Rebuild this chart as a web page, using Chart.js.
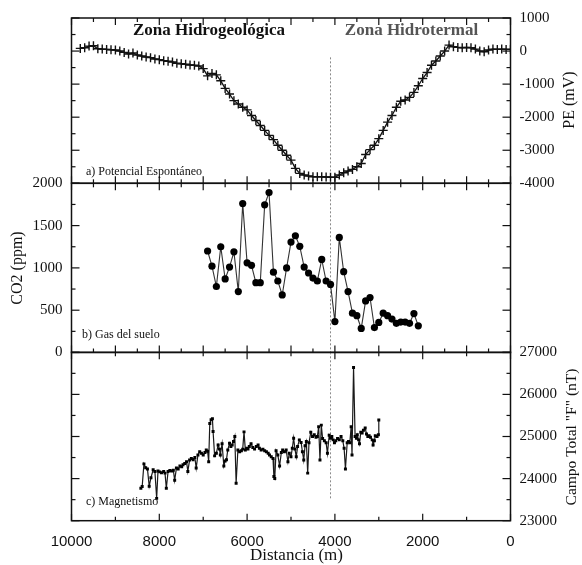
<!DOCTYPE html>
<html>
<head>
<meta charset="utf-8">
<script src="https://cdn.jsdelivr.net/npm/chart.js@4/dist/chart.umd.min.js"></script>
<style>
  html, body { margin: 0; padding: 0; background: #fff; }
  #wrap { position: relative; width: 582px; height: 565px; }
  #wrap canvas { position: absolute; left: 0; top: 0; }
</style>
</head>
<body>
<div id="wrap">
  <canvas id="pe" width="582" height="565"></canvas>
  <canvas id="co2" width="582" height="565"></canvas>
  <canvas id="mag" width="582" height="565"></canvas>
</div>
<script>
// Profile along the survey line; distance in metres (axis runs 10000 -> 0)
const distTicks = [10000, 8000, 6000, 4000, 2000, 0];
const peTicks = [1000, 0, -1000, -2000, -3000, -4000];
const co2Ticks = [0, 500, 1000, 1500, 2000];
const magTicks = [23000, 24000, 25000, 26000, 27000];

// a) Spontaneous potential (mV), one station every 100 m from 9800 m
const peStart = 9800, peStep = 100;
const peValues = [
  80, 100, 150, 160, 70, 60, 50, 40, 30, 0,
  -40, -90, -60, -120, -150, -180, -200, -240, -260, -290,
  -310, -330, -370, -385, -400, -420, -430, -450, -530, -750,
  -680, -720, -900, -1130, -1300, -1500, -1600, -1700, -1780, -1950,
  -2100, -2250, -2400, -2550, -2680, -2850, -3000, -3150, -3300, -3550,
  -3700, -3750, -3780, -3800, -3800, -3800, -3810, -3815, -3820, -3750,
  -3680, -3630, -3580, -3500, -3400, -3130, -2980, -2850, -2650, -2400,
  -2150, -1950, -1700, -1520, -1480, -1400, -1250, -1050, -830, -650,
  -430, -300, -150, 0, 180, 130, 110, 100, 110, 100,
  60, 0, -20, 30, 60, 50, 60, 50, 50
];

// b) Soil gas CO2 (ppm), one station every 100 m from 6900 m
const co2Start = 6900, co2Step = 100;
const co2Values = [
  1200, 1020, 780, 1250, 870, 1010, 1190, 720, 1760, 1060,
  1030, 825, 825, 1745, 1890, 950, 845, 680, 1000, 1305,
  1380, 1255, 1010, 940, 880, 845, 1100, 845, 805, 365,
  1360, 955, 720, 465, 435, 285, 610, 650, 295, 355,
  465, 435, 395, 345, 360, 360, 345, 460, 315
];

// c) Total magnetic field F (nT)
const magDist = [
  8420, 8390, 8350, 8310, 8270, 8230, 8190, 8140, 8100, 8060,
  8030, 7990, 7950, 7900, 7870, 7840, 7800, 7760, 7720, 7680,
  7650, 7610, 7570, 7530, 7490, 7460, 7420, 7380, 7350, 7310,
  7270, 7230, 7190, 7160, 7120, 7080, 7040, 7000, 6960, 6930,
  6900, 6875, 6850, 6820, 6790, 6775, 6740, 6700, 6660, 6630,
  6610, 6570, 6530, 6500, 6470, 6440, 6400, 6370, 6340, 6310,
  6280, 6250, 6210, 6170, 6130, 6100, 6070, 6040, 6010, 5980,
  5950, 5910, 5870, 5830, 5790, 5750, 5720, 5680, 5640, 5600,
  5560, 5520, 5490, 5450, 5410, 5390, 5370, 5340, 5300, 5260,
  5220, 5190, 5150, 5110, 5070, 5040, 5000, 4970, 4940, 4910,
  4880, 4850, 4810, 4770, 4740, 4710, 4680, 4650, 4620, 4590,
  4550, 4510, 4470, 4430, 4400, 4370, 4340, 4310, 4280, 4240,
  4200, 4170, 4130, 4100, 4070, 4040, 4010, 3980, 3940, 3900,
  3860, 3820, 3790, 3760, 3720, 3690, 3660, 3630, 3610, 3575,
  3540, 3510, 3490, 3460, 3440, 3410, 3380, 3350, 3310, 3280,
  3250, 3220, 3190, 3150, 3130, 3100, 3080, 3040, 3010, 3000
];
const magField = [
  23770, 23810, 24350, 24260, 24230, 23820, 24020, 24210, 24170, 23530,
  24180, 24160, 24140, 24170, 24130, 23770, 24170, 24190, 24180, 24200,
  23960, 24250, 24230, 24300, 24280, 24330, 24360, 24400, 24170, 24440,
  24480, 24450, 24500, 24250, 24560, 24640, 24600, 24560, 24620, 24680,
  24650, 24400, 25310, 25400, 25420, 25120, 24540, 24600, 24800, 24700,
  24560, 24830, 24300, 24420, 24450, 24680, 24840, 24760, 24800, 24880,
  25000, 23890, 24680, 24640, 24660, 24700, 25110, 24680, 24720, 24700,
  24760, 24830, 24740, 24700, 24760, 24800, 24720, 24680, 24700, 24660,
  24640, 24600, 24560, 24520, 24480, 24050, 24000, 24660, 24560, 24300,
  24620, 24680, 24640, 24680, 24400, 24600, 24520, 24720, 24960, 24700,
  24520, 24760, 24920, 24860, 24640, 24440, 24780, 24880, 24130, 24850,
  25100, 25000, 25040, 24980, 25000, 25230, 24440, 25270, 24950, 24900,
  24850, 24600, 25030, 24960, 25000, 24920, 24850, 24900, 24950, 24920,
  25000, 24900, 24720, 24230, 24850, 24880, 24850, 25230, 24560, 26640,
  25000, 24960, 25040, 24920, 24830, 25100, 25080, 25150, 25200, 25060,
  25000, 25020, 24980, 24920, 24800, 24900, 25020, 25000, 25040, 25390
];

// Boundary between the hydrogeological and hydrothermal zones
const boundaryDist = 4100;

const SERIF = '"Liberation Serif", "DejaVu Serif", serif';
const SANS = '"Liberation Sans", Arial, sans-serif';

const pePoints = peValues.map((v, i) => ({ x: peStart - i * peStep, y: v }));
const co2Points = co2Values.map((v, i) => ({ x: co2Start - i * co2Step, y: v }));
const magPoints = magField.map((v, i) => ({ x: magDist[i], y: v }));

// Panel frame with inward tick marks on all four sides
const framePlugin = {
  id: 'frame',
  afterDraw(chart, args, o) {
    const { ctx, chartArea: a } = chart;
    const xs = chart.scales.x, ys = chart.scales.y;
    ctx.save();
    ctx.strokeStyle = '#111';
    ctx.lineWidth = 1.5;
    ctx.strokeRect(a.left, a.top, a.right - a.left, a.bottom - a.top);
    ctx.lineWidth = 1.2;
    const seg = (x1, y1, x2, y2) => { ctx.beginPath(); ctx.moveTo(x1, y1); ctx.lineTo(x2, y2); ctx.stroke(); };
    for (let v = xs.min; v <= xs.max + 1e-6; v += o.xMinor) {
      const L = (Math.abs(v % o.xMajor) < 1e-6) ? 7 : 4;
      const px = xs.getPixelForValue(v);
      seg(px, a.top, px, a.top + L);
      seg(px, a.bottom, px, a.bottom - L);
    }
    for (let v = ys.min; v <= ys.max + 1e-6; v += o.yMinor) {
      const L = (Math.abs((v - ys.min) % o.yMajor) < 1e-6) ? 8 : 4;
      const py = ys.getPixelForValue(v);
      seg(a.left, py, a.left + L, py);
      seg(a.right, py, a.right - L, py);
    }
    ctx.restore();
  }
};

// Dotted line marking the zone boundary
const boundaryPlugin = {
  id: 'boundary',
  beforeDatasetsDraw(chart, args, o) {
    const { ctx } = chart;
    const xs = chart.scales.x, ys = chart.scales.y;
    const px = xs.getPixelForValue(boundaryDist);
    ctx.save();
    ctx.strokeStyle = '#8a8a8a';
    ctx.lineWidth = 1;
    ctx.setLineDash([2, 2]);
    ctx.beginPath();
    ctx.moveTo(px, ys.getPixelForValue(o.from));
    ctx.lineTo(px, ys.getPixelForValue(o.to));
    ctx.stroke();
    ctx.restore();
  }
};

// Free text: zone names, panel captions and axis titles
const textPlugin = {
  id: 'texts',
  afterDraw(chart, args, o) {
    const { ctx } = chart;
    ctx.save();
    for (const t of o.items) {
      ctx.save();
      ctx.font = t.font;
      ctx.fillStyle = t.color || '#111';
      ctx.textAlign = t.align || 'center';
      ctx.textBaseline = 'middle';
      ctx.translate(t.x, t.y);
      if (t.rotate) ctx.rotate(t.rotate);
      ctx.fillText(t.text, 0, 0);
      ctx.restore();
    }
    ctx.restore();
  }
};

const AXIS_W = 71.5;

function xScale(showLabels) {
  const s = {
    type: 'linear', min: 0, max: 10000, reverse: true,
    display: showLabels,
    grid: { display: false, drawTicks: false },
    border: { display: false },
    ticks: {
      font: { family: SANS, size: 15 }, color: '#111', padding: 12,
      autoSkip: false, maxRotation: 0, callback: v => String(v)
    },
    afterBuildTicks: sc => { sc.ticks = distTicks.map(v => ({ value: v })); },
  };
  if (showLabels) s.afterFit = sc => { sc.height = 44.3; };
  return s;
}

function yScale(pos, min, max, ticks) {
  return {
    type: 'linear', position: pos, min, max,
    grid: { display: false, drawTicks: false },
    border: { display: false },
    ticks: {
      font: { family: SERIF, size: 15 }, color: '#111', padding: 9,
      autoSkip: false, callback: v => String(v)
    },
    afterBuildTicks: sc => { sc.ticks = ticks.map(v => ({ value: v })); },
    afterFit: sc => { sc.width = AXIS_W; }
  };
}

function baseOptions(padding, scales, frame, boundary, items) {
  return {
    responsive: false, animation: false, devicePixelRatio: 1,
    layout: { padding },
    scales,
    plugins: {
      legend: { display: false }, tooltip: { enabled: false },
      frame, boundary, texts: { items }
    },
    elements: { line: { tension: 0 } }
  };
}

const plugins = [framePlugin, boundaryPlugin, textPlugin];

// a) Potencial Espontáneo
new Chart(document.getElementById('pe'), {
  type: 'line',
  data: {
    datasets: [{
      data: pePoints, borderColor: '#111', borderWidth: 1.3,
      pointStyle: 'cross', pointRadius: 4.5, pointBorderWidth: 1.4,
      pointBorderColor: '#111', pointBackgroundColor: '#111', fill: false
    }]
  },
  options: baseOptions(
    { top: 15, bottom: 381.7, left: AXIS_W, right: 0 },
    { x: xScale(false), y: yScale('right', -4000, 1000, peTicks) },
    { xMajor: 1000, xMinor: 500, yMajor: 1000, yMinor: 500 },
    { from: -190, to: -4000 },
    [
      { text: 'Zona Hidrogeológica', x: 209, y: 31, font: `bold 17px ${SERIF}`, color: '#111' },
      { text: 'Zona Hidrotermal', x: 411.5, y: 31, font: `bold 17px ${SERIF}`, color: '#555' },
      { text: 'a) Potencial Espontáneo', x: 86, y: 172, font: `12px ${SERIF}`, align: 'left' },
      { text: 'PE (mV)', x: 570, y: 100, font: `16px ${SERIF}`, rotate: -Math.PI / 2 }
    ]
  ),
  plugins
});

// b) Gas del suelo
new Chart(document.getElementById('co2'), {
  type: 'line',
  data: {
    datasets: [{
      data: co2Points, borderColor: '#333', borderWidth: 1.1,
      pointStyle: 'circle', pointRadius: 3.6, pointBorderWidth: 0,
      pointBackgroundColor: '#000', fill: false
    }]
  },
  options: baseOptions(
    { top: 183.3, bottom: 212.5, left: 0, right: 582 - 510.5 },
    { x: xScale(false), y: yScale('left', 0, 2000, co2Ticks) },
    { xMajor: 1000, xMinor: 500, yMajor: 500, yMinor: 250 },
    { from: 2000, to: 0 },
    [
      { text: 'b) Gas del suelo', x: 82, y: 335, font: `12px ${SERIF}`, align: 'left' },
      { text: 'CO2 (ppm)', x: 18, y: 268, font: `16px ${SERIF}`, rotate: -Math.PI / 2 }
    ]
  ),
  plugins
});

// c) Magnetismo
new Chart(document.getElementById('mag'), {
  type: 'line',
  data: {
    datasets: [{
      data: magPoints, borderColor: '#1a1a1a', borderWidth: 1.2,
      pointStyle: 'rect', pointRadius: 2.1, pointBorderWidth: 0,
      pointBackgroundColor: '#000', fill: false
    }]
  },
  options: baseOptions(
    { top: 352.3, bottom: 0, left: AXIS_W, right: 0 },
    { x: xScale(true), y: yScale('right', 23000, 27000, magTicks) },
    { xMajor: 2000, xMinor: 1000, yMajor: 1000, yMinor: 500 },
    { from: 27000, to: 23490 },
    [
      { text: 'c) Magnetismo', x: 86, y: 502, font: `12px ${SERIF}`, align: 'left' },
      { text: 'Campo Total "F" (nT)', x: 572, y: 437, font: `15.5px ${SERIF}`, rotate: -Math.PI / 2 },
      { text: 'Distancia (m)', x: 296.5, y: 556, font: `17px ${SERIF}` }
    ]
  ),
  plugins
});
</script>
</body>
</html>
